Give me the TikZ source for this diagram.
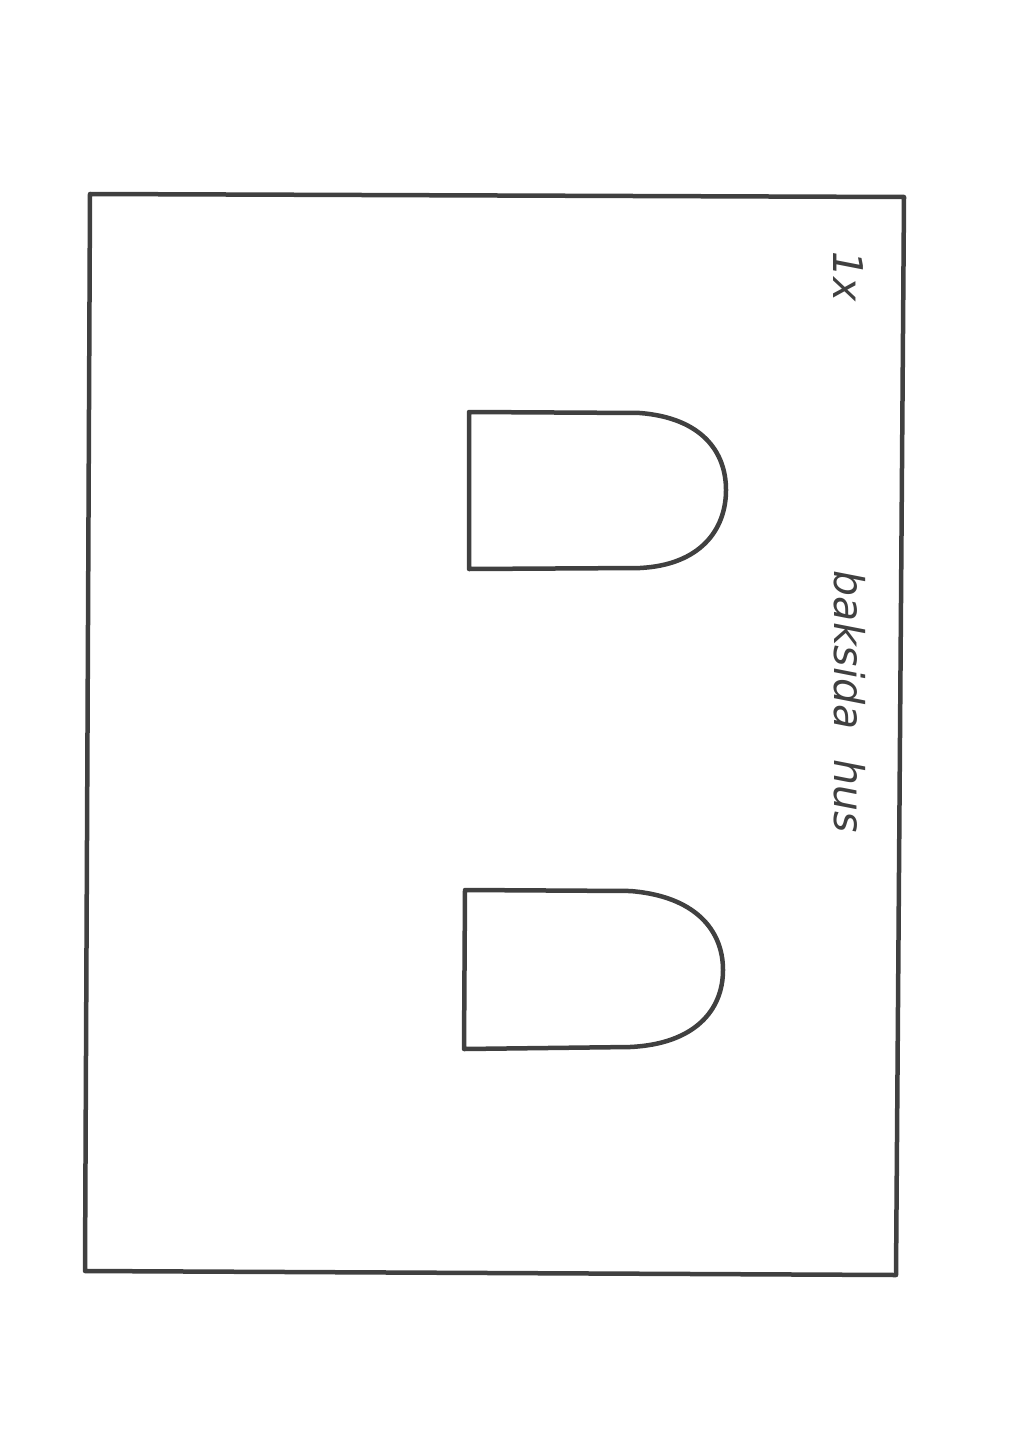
\documentclass[tikz,border=0pt]{standalone}
\usepackage{fontspec}
\setsansfont{DejaVu Sans}
\begin{document}
\begin{tikzpicture}[x=1pt,y=-1pt,
  ink/.style={draw=black!75, line width=4.5pt, line join=round, line cap=round},
  hand/.style={font=\fontsize{41}{48}\selectfont\sffamily\itshape\mdseries, text=black!75, rotate=-90, inner sep=0pt}]
\useasboundingbox (0,0) rectangle (1024,1447);
\fill[white] (0,0) rectangle (1024,1447);
% outer frame
\draw[ink] (90,194) -- (904,197) -- (896,1275) -- (85,1271) -- cycle;
% upper window
\draw[ink] (469,412) -- (640,413) .. controls (702,418) and (726,452) .. (726,490)
  .. controls (726,530) and (700,565) .. (640,568) -- (469,569) -- cycle;
% lower window
\draw[ink] (465,890) -- (630,891) .. controls (695,896) and (723,930) .. (723,970)
  .. controls (723,1010) and (695,1044) .. (630,1047) -- (464,1049) -- cycle;
% labels
\node[hand] (count) at (848,277) {1x};
\node[hand] (title) at (850,702) {baksida\hspace{30pt}hus};
\end{tikzpicture}
\end{document}
